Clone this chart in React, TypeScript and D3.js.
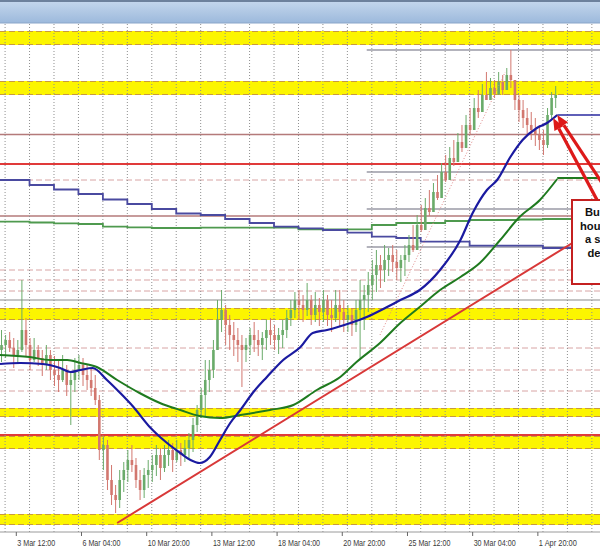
import React from 'react';
import * as d3 from 'd3';

const W = 600;
const H = 549;

// ---------------- data (price units) ----------------
// 4-hour aggregated candles
const candleHigh = [270,265,268,262,260,320,282,262,262,255,250,255,250,244,240,245,235,228,242,245,242,235,232,225,205,163,160,135,115,130,138,150,155,142,130,132,140,145,155,152,155,160,157,160,157,160,167,182,195,212,240,240,260,300,310,295,285,278,272,265,262,272,278,270,268,280,282,275,272,280,290,300,308,310,305,317,305,308,302,310,305,300,310,310,300,295,292,300,320,315,328,340,350,345,355,352,355,350,345,355,365,375,385,395,402,410,417,425,437,445,453,460,467,475,485,492,502,510,516,528,522,520,528,525,532,550,520,505,500,492,488,482,475,470,492,508,514];
const candleLow = [238,242,248,232,236,248,244,230,238,234,224,230,220,214,208,218,204,175,208,220,214,210,204,195,140,130,110,95,87,92,108,118,128,112,100,102,112,118,124,120,128,134,128,138,134,138,142,148,168,182,183,208,222,255,268,255,250,244,238,213,238,245,248,244,240,250,255,250,246,252,262,274,282,280,278,284,275,278,274,278,274,268,278,274,268,268,264,268,242,270,288,300,308,312,318,324,328,320,318,324,338,348,358,368,376,384,392,400,410,418,427,434,442,448,455,465,472,482,492,500,502,502,505,505,510,512,490,478,472,466,460,454,450,445,452,480,492];
const candleClose = [255,260,252,245,250,270,255,240,250,242,235,245,230,225,220,230,215,220,230,235,225,220,212,200,150,155,120,105,100,120,130,140,135,120,110,125,130,135,145,132,145,150,140,150,145,152,160,175,190,205,220,230,250,280,290,275,265,260,255,250,255,265,260,255,262,270,265,260,265,270,282,290,300,295,290,300,285,295,288,300,285,282,295,288,280,285,275,290,300,305,315,325,335,330,340,345,338,332,340,345,355,350,375,370,392,388,408,402,428,420,442,438,458,452,475,470,492,488,505,500,512,506,518,510,525,520,500,490,482,475,470,465,460,455,485,502,505];
const firstOpen = 250;
const BARS_PER_CANDLE = 4;

// hourly moving averages: [bar, price]
const ma100: [number, number][] = [[0,236],[20,237],[42,236],[59,232],[69,228],[79,230],[91,232],[105,220],[118,207],[131,193],[147,173],[164,157],[177,147],[187,140],[196,137],[206,143],[216,160],[226,177],[236,190],[248,207],[262,223],[278,240],[295,253],[307,267],[321,270],[344,277],[360,283],[380,293],[393,300],[412,310],[432,330],[452,360],[464,387],[478,410],[488,420],[501,443],[513,460],[527,472],[537,477],[547,485]];
const ma200: [number, number][] = [[0,245],[29,243],[49,240],[66,240],[79,237],[95,233],[115,220],[137,207],[157,197],[177,190],[196,184],[216,182],[236,185],[265,190],[288,195],[311,210],[334,223],[350,238],[373,257],[393,277],[412,293],[432,310],[452,323],[471,337],[491,360],[510,383],[530,400],[547,421]];
const ma100Extension = 485;
const ma200Extension = 422;

// daily moving averages (one value per day)
const dailyBlue = [420,415,410.5,406,400.5,396,391,386.5,385,381,377,373.3,371.7,370,367.3,363.3,362,358.3,358.3,354.3,354.3,354.3,352,352,352];
const dailyGreen = [378.3,377.5,376.7,376,373.3,372.7,372,372,372.3,372.3,372.3,372.3,370.7,370.7,370.7,375,377,377,379,380,380,380.5,381,381,381];

// levels
const yellowZones: [number, number][] = [[555,569],[505,519],[280,292],[183,192],[151,164],[75,86]];
const redLevels = [436, 165];
const roseLevels = [465.5, 384];
const dashedLevels = [420, 330, 320, 309, 252, 230, 209];
const grayFullLevels = [300];
const grayRightLevels = [550, 428, 391, 353];
const grayRightStartBar = 360;

// trend lines: [bar, price]
const redTrend: [number, number][] = [[115, 77], [589, 374]];
const dottedTrend: [number, number][] = [[373, 265], [496, 528]];

// x-axis
const tickLabels = ['3 Mar 12:00','6 Mar 04:00','10 Mar 20:00','13 Mar 12:00','18 Mar 04:00','20 Mar 20:00','25 Mar 12:00','30 Mar 04:00','1 Apr 20:00'];
const FIRST_TICK_BAR = 16;
const TICK_STEP_BARS = 64;
const FIRST_GRID_BAR = 5;
const GRID_STEP_BARS = 24;
const GRID_COUNT = 25;

// annotation (only the visible part of the note lies inside the frame)
const noteLines = ['Bu', 'hou', 'a s', 'de'];
const noteOffsets = [585, 580, 585, 587.5];
const arrows: { from: [number, number]; to: [number, number] }[] = [
  { from: [594, 385], to: [543, 482] },
  { from: [604, 397], to: [547, 485] },
];

// ---------------- scales ----------------
const x = d3.scaleLinear().domain([0, 589]).range([0, W]);
const y = d3.scaleLinear().domain([68, 576]).range([532, 24]);
const PLOT_TOP = y(576);
const PLOT_BOTTOM = y(68);

const smooth = d3.line<[number, number]>().x(d => x(d[0])).y(d => y(d[1])).curve(d3.curveMonotoneX);
const straight = d3.line<[number, number]>().x(d => x(d[0])).y(d => y(d[1]));
const stepLine = d3.line<[number, number]>().x(d => x(d[0])).y(d => y(d[1])).curve(d3.curveStepAfter);

function dailyPoints(vals: number[]): [number, number][] {
  const pts: [number, number][] = vals.map((v, j) => [j === 0 ? 0 : FIRST_GRID_BAR + GRID_STEP_BARS * j, v]);
  pts.push([589, vals[vals.length - 1]]);
  return pts;
}

function Arrow({ from, to }: { from: [number, number]; to: [number, number] }) {
  const x1 = x(from[0]), y1 = y(from[1]), x2 = x(to[0]), y2 = y(to[1]);
  const ang = Math.atan2(y2 - y1, x2 - x1);
  const len = 12, half = 5;
  const bx = x2 - Math.cos(ang) * len, by = y2 - Math.sin(ang) * len;
  const px = -Math.sin(ang) * half, py = Math.cos(ang) * half;
  return (
    <g>
      <line x1={x1} y1={y1} x2={bx} y2={by} stroke="#dd1a1a" strokeWidth={3.2} />
      <path d={`M${x2},${y2}L${bx + px},${by + py}L${bx - px},${by - py}Z`} fill="#dd1a1a" />
    </g>
  );
}

export default function App() {
  const gridBars = d3.range(GRID_COUNT).map(k => FIRST_GRID_BAR + GRID_STEP_BARS * k);
  return (
    <svg width={W} height={H} style={{ position: 'absolute', left: 0, top: 0, display: 'block', background: '#fff' }}
      fontFamily="'Liberation Sans', Arial, sans-serif">
      <defs>
        <linearGradient id="topbar" x1="0" y1="0" x2="0" y2="1">
          <stop offset="0" stopColor="#c6d8ed" />
          <stop offset="1" stopColor="#9cb9dc" />
        </linearGradient>
        <clipPath id="plot"><rect x={0} y={PLOT_TOP} width={W} height={PLOT_BOTTOM - PLOT_TOP} /></clipPath>
      </defs>
      <rect x={0} y={0} width={W} height={H} fill="#fff" />
      {/* window title bar */}
      <rect x={0} y={0} width={W} height={23} fill="url(#topbar)" />
      <rect x={0} y={0} width={W} height={2} fill="#6d819c" />
      <line x1={0} x2={W} y1={23} y2={23} stroke="#8aa6c9" strokeWidth={1} />

      <g clipPath="url(#plot)">
        {/* yellow zones */}
        {yellowZones.map(([lo, hi], i) => (
          <g key={'z' + i}>
            <rect x={0} width={W} y={y(hi)} height={y(lo) - y(hi)} fill="#fcf500" />
            <line x1={0} x2={W} y1={y(hi) + 0.5} y2={y(hi) + 0.5} stroke="#c99a3c" strokeDasharray="6,3" strokeWidth={1} />
            <line x1={0} x2={W} y1={y(lo) - 0.5} y2={y(lo) - 0.5} stroke="#c99a3c" strokeDasharray="6,3" strokeWidth={1} />
          </g>
        ))}
        {dashedLevels.map((v, i) => (
          <line key={'d' + i} x1={0} x2={W} y1={y(v)} y2={y(v)} stroke="#d8a4a4" strokeDasharray="6,3" strokeWidth={1} />
        ))}
        {roseLevels.map((v, i) => (
          <line key={'r' + i} x1={0} x2={W} y1={y(v)} y2={y(v)} stroke="#b47a7a" strokeWidth={1.6} />
        ))}
        {grayFullLevels.map((v, i) => (
          <line key={'g' + i} x1={0} x2={W} y1={y(v)} y2={y(v)} stroke="#8c8c8c" strokeWidth={1.2} />
        ))}
        {grayRightLevels.map((v, i) => (
          <line key={'gr' + i} x1={x(grayRightStartBar)} x2={W} y1={y(v)} y2={y(v)} stroke="#9a9aa6" strokeWidth={1.5} />
        ))}
        {redLevels.map((v, i) => (
          <line key={'rl' + i} x1={0} x2={W} y1={y(v)} y2={y(v)} stroke="#e03a3a" strokeWidth={2} />
        ))}
        {/* vertical grid */}
        {gridBars.map((b, i) => (
          <line key={'v' + i} x1={x(b)} x2={x(b)} y1={PLOT_TOP} y2={PLOT_BOTTOM} stroke="#8f8f8f" strokeDasharray="1,2" strokeWidth={1} />
        ))}

        {/* daily MAs */}
        <path d={stepLine(dailyPoints(dailyGreen)) || ''} fill="none" stroke="#4f9a4f" strokeWidth={1.8} />
        <path d={stepLine(dailyPoints(dailyBlue)) || ''} fill="none" stroke="#4a4aa0" strokeWidth={1.8} />

        {/* candles */}
        {candleClose.map((c, i) => {
          const o = i === 0 ? firstOpen : candleClose[i - 1];
          const h = Math.max(candleHigh[i], o, c);
          const l = Math.min(candleLow[i], o, c);
          const cx = x(i * BARS_PER_CANDLE + 1.5);
          const up = c >= o;
          const col = up ? '#6aab6a' : '#d2776f';
          return (
            <g key={'c' + i}>
              <line x1={cx} x2={cx} y1={y(h)} y2={y(l)} stroke={col} strokeWidth={1} />
              <rect x={cx - 1.3} width={2.6} y={y(Math.max(o, c))} height={Math.max(1, Math.abs(y(o) - y(c)))} fill={col} />
            </g>
          );
        })}

        <path d={straight(dottedTrend) || ''} fill="none" stroke="#e08a8a" strokeDasharray="1,2" strokeWidth={1} />

        {/* hourly MAs */}
        <path d={smooth(ma200) || ''} fill="none" stroke="#1f7a1f" strokeWidth={2} />
        <line x1={x(ma200[ma200.length - 1][0])} x2={W} y1={y(ma200Extension)} y2={y(ma200Extension)} stroke="#1f7a1f" strokeWidth={1.8} />
        <path d={smooth(ma100) || ''} fill="none" stroke="#1a1aa0" strokeWidth={2.2} />
        <line x1={x(ma100[ma100.length - 1][0])} x2={W} y1={y(ma100Extension)} y2={y(ma100Extension)} stroke="#2a2aa0" strokeWidth={1.6} />

        {/* red trend line */}
        <path d={straight(redTrend) || ''} fill="none" stroke="#d83838" strokeWidth={2} />

        {/* annotation */}
        {arrows.map((a, i) => <Arrow key={'a' + i} from={a.from} to={a.to} />)}
        <rect x={572} y={y(400)} width={40} height={y(316) - y(400)} fill="#fff" stroke="#c42020" strokeWidth={2} />
        {noteLines.map((t, i) => (
          <text key={'t' + i} x={noteOffsets[i]} y={216 + i * 13.7} fontSize={11.2} fontWeight="bold" fill="#111">{t}</text>
        ))}
      </g>

      {/* x axis */}
      <line x1={0} x2={W} y1={PLOT_BOTTOM} y2={PLOT_BOTTOM} stroke="#9a9a9a" strokeWidth={1} />
      {tickLabels.map((t, i) => {
        const bx = x(FIRST_TICK_BAR + TICK_STEP_BARS * i);
        return (
          <g key={'tk' + i}>
            <line x1={bx} x2={bx} y1={PLOT_BOTTOM} y2={PLOT_BOTTOM + 4} stroke="#666" strokeWidth={1} />
            <text x={bx + 1} y={545.5} fontSize={8.2} fill="#3a3a3a" textLength={t.length > 11 ? 42 : 38} lengthAdjust="spacingAndGlyphs">{t}</text>
          </g>
        );
      })}
    </svg>
  );
}
